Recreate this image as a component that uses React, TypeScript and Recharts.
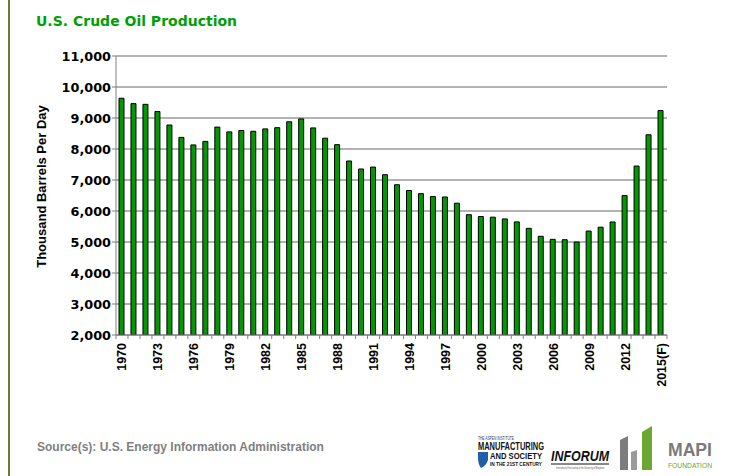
import React from 'react';
import { BarChart, Bar, XAxis, YAxis, CartesianGrid } from 'recharts';

const years = [
  '1970', '1971', '1972', '1973', '1974', '1975', '1976', '1977', '1978', '1979',
  '1980', '1981', '1982', '1983', '1984', '1985', '1986', '1987', '1988', '1989',
  '1990', '1991', '1992', '1993', '1994', '1995', '1996', '1997', '1998', '1999',
  '2000', '2001', '2002', '2003', '2004', '2005', '2006', '2007', '2008', '2009',
  '2010', '2011', '2012', '2013', '2014', '2015(F)',
];

const production = [
  9637, 9463, 9441, 9208, 8774, 8375, 8132, 8245, 8707, 8552,
  8597, 8572, 8649, 8688, 8879, 8971, 8680, 8349, 8140, 7613,
  7355, 7417, 7171, 6847, 6662, 6560, 6465, 6452, 6252, 5881,
  5822, 5801, 5744, 5649, 5441, 5184, 5086, 5074, 5000, 5353,
  5478, 5646, 6497, 7450, 8460, 9240,
];

const majorTicks = [2000, 3000, 4000, 5000, 6000, 7000, 8000, 9000, 10000, 11000];
const minorStep = 200;
const minorTicks: number[] = [];
for (let v = 2000; v <= 11000; v += minorStep) minorTicks.push(v);

const labelEvery = 3;

const data = years.map((y, i) => ({ year: y, value: production[i] }));

const XTick = (props: any) => {
  const { x, y, index, payload, width, visibleTicksCount } = props;
  let half = 6;
  if (payload && typeof payload.offset === 'number' && payload.offset > 0) half = payload.offset;
  else if (width && visibleTicksCount) half = width / visibleTicksCount / 2;
  const ty = y + 8;
  return (
    <g>
      <line x1={x - half} x2={x - half} y1={y} y2={y + 4} stroke="#808080" strokeWidth={1} />
      {index === years.length - 1 && (
        <line x1={x + half} x2={x + half} y1={y} y2={y + 4} stroke="#808080" strokeWidth={1} />
      )}
      {index % labelEvery === 0 && (
        <text
          x={x}
          y={ty}
          dy="0.36em"
          transform={`rotate(-90 ${x} ${ty})`}
          textAnchor="end"
          fontFamily="'Liberation Sans', Arial, sans-serif"
          fontWeight="bold"
          fontSize={12.5}
          fill="#000"
        >
          {payload.value}
        </text>
      )}
    </g>
  );
};

const EmptyTick = () => <g />;

const YLabel = (props: any) => {
  const vb = props.viewBox || { x: 0, y: 56, width: 116, height: 279 };
  const cx = vb.x + 41;
  const cy = vb.y + vb.height / 2 - 9;
  return (
    <text
      x={cx}
      y={cy}
      dy="0.36em"
      transform={`rotate(-90 ${cx} ${cy})`}
      textAnchor="middle"
      fontFamily="'Liberation Sans', Arial, sans-serif"
      fontWeight="bold"
      fontSize={13}
      fill="#000"
    >
      Thousand Barrels Per Day
    </text>
  );
};

export default function App() {
  return (
    <div style={{ position: 'absolute', left: 0, top: 0, width: 734, height: 476, background: '#fff', overflow: 'hidden' }}>
      <BarChart
        width={734}
        height={476}
        data={data}
        margin={{ top: 56, right: 67, bottom: 81, left: 0 }}
        barSize={5}
      >
        <CartesianGrid vertical={false} stroke="#9a9a9a" strokeWidth={1.5} />
        <XAxis
          dataKey="year"
          interval={0}
          height={60}
          tickLine={false}
          tickSize={0}
          tickMargin={0}
          tick={<XTick />}
          axisLine={{ stroke: '#808080', strokeWidth: 1 }}
        />
        <YAxis
          width={116}
          domain={[2000, 11000]}
          ticks={majorTicks}
          interval={0}
          allowDataOverflow
          tickSize={4}
          tickMargin={1}
          tickLine={{ stroke: '#808080' }}
          axisLine={{ stroke: '#808080', strokeWidth: 1 }}
          tickFormatter={(v: number) => v.toLocaleString('en-US')}
          tick={{ fontFamily: "'DejaVu Sans', Verdana, sans-serif", fontWeight: 'bold', fontSize: 12.8, fill: '#000' }}
          label={<YLabel />}
        />
        <YAxis
          yAxisId="minor"
          width={0}
          mirror
          domain={[2000, 11000]}
          ticks={minorTicks}
          interval={0}
          allowDataOverflow
          tickSize={3}
          tickLine={{ stroke: '#808080' }}
          axisLine={false}
          tick={<EmptyTick />}
        />
        <YAxis
          yAxisId="right"
          orientation="right"
          width={0}
          domain={[2000, 11000]}
          ticks={[]}
          tick={false}
          tickLine={false}
          axisLine={{ stroke: '#a6a6a6', strokeWidth: 2 }}
        />
        <Bar dataKey="value" fill="#009900" stroke="#000" strokeWidth={1} isAnimationActive={false} />
      </BarChart>

      <svg
        width={734}
        height={476}
        style={{ position: 'absolute', left: 0, top: 0, pointerEvents: 'none' }}
      >
        <line x1={9} x2={9} y1={0} y2={476} stroke="#6b7a3a" strokeWidth={2} />
        <text x={36} y={26} fontFamily="'DejaVu Sans', Verdana, sans-serif" fontWeight="bold" fontSize={14} fill="#00a000">
          U.S. Crude Oil Production
        </text>
        <text x={37} y={451} fontFamily="'Liberation Sans', Arial, sans-serif" fontWeight="bold" fontSize={12} fill="#7f7f7f">
          Source(s): U.S. Energy Information Administration
        </text>

        {/* Aspen Institute logo */}
        <text x={478} y={440} fontFamily="'Liberation Sans', Arial, sans-serif" fontSize={5} fill="#1a3a6a" textLength={36} lengthAdjust="spacingAndGlyphs">
          THE ASPEN INSTITUTE
        </text>
        <text x={478} y={450} fontFamily="'Liberation Sans', Arial, sans-serif" fontWeight="bold" fontSize={10} fill="#111" textLength={66} lengthAdjust="spacingAndGlyphs">
          MANUFACTURING
        </text>
        <path d="M478 452 L488 452 L488 460 Q486 466 481 468 Q478 464 478 458 Z" fill="#1f5fa8" />
        <text x={490} y={459} fontFamily="'Liberation Sans', Arial, sans-serif" fontWeight="bold" fontSize={9} fill="#111" textLength={52} lengthAdjust="spacingAndGlyphs">
          AND SOCIETY
        </text>
        <text x={490} y={466} fontFamily="'Liberation Sans', Arial, sans-serif" fontWeight="bold" fontSize={5} fill="#111" textLength={52} lengthAdjust="spacingAndGlyphs">
          IN THE 21ST CENTURY
        </text>

        {/* Inforum logo */}
        <text x={551} y={461} fontFamily="'Liberation Sans', Arial, sans-serif" fontWeight="bold" fontStyle="italic" fontSize={15} fill="#111" textLength={58} lengthAdjust="spacingAndGlyphs">
          INFORUM
        </text>
        <line x1={551} x2={609} y1={464} y2={464} stroke="#111" strokeWidth={1} />
        <text x={556} y={469} fontFamily="'Liberation Sans', Arial, sans-serif" fontSize={3} fill="#555" textLength={48} lengthAdjust="spacingAndGlyphs">
          Interindustry Forecasting at the University of Maryland
        </text>

        {/* MAPI logo */}
        <polygon points="620,440 628,436 628,470 620,470" fill="#7d7d7d" />
        <polygon points="631,452 637,450 637,470 631,470" fill="#9a9a9a" />
        <polygon points="642,432 652,426 652,470 642,470" fill="#6aa832" />
        <text x={668} y={456} fontFamily="'Liberation Sans', Arial, sans-serif" fontWeight="bold" fontSize={18} fill="#7a7a7a" textLength={44} lengthAdjust="spacingAndGlyphs">
          MAPI
        </text>
        <text x={668} y={468} fontFamily="'Liberation Sans', Arial, sans-serif" fontSize={7.5} fill="#6aa832" textLength={44} lengthAdjust="spacingAndGlyphs">
          FOUNDATION
        </text>
      </svg>
    </div>
  );
}
